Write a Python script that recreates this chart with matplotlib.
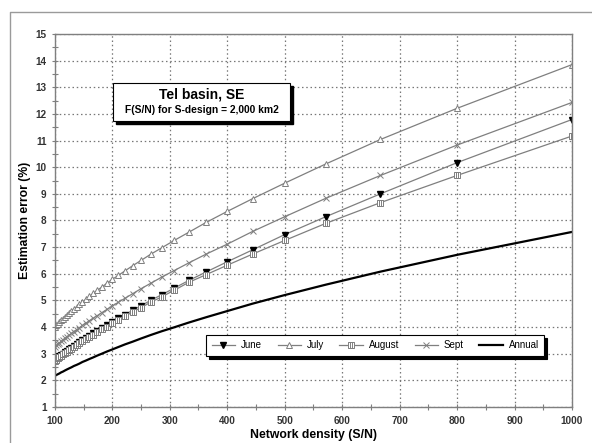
import matplotlib
matplotlib.use("Agg")
import matplotlib.pyplot as plt
from matplotlib.path import Path
from matplotlib.patches import Rectangle
from matplotlib.lines import Line2D

plt.rcParams["font.family"] = ["Liberation Sans", "DejaVu Sans"]

# network density S/N (km2 per station), from 40 down to 4 stations
density = [100.0, 102.6, 105.3, 108.1, 111.1, 114.3, 117.6, 121.2, 125.0, 129.0,
           133.3, 137.9, 142.9, 148.1, 153.8, 160.0, 166.7, 173.9, 181.8, 190.5,
           200.0, 210.5, 222.2, 235.3, 250.0, 266.7, 285.7, 307.7, 333.3, 363.6,
           400.0, 444.4, 500.0, 571.4, 666.7, 800.0, 1000.0]

june = [2.77, 2.81, 2.86, 2.90, 2.95, 3.00, 3.05, 3.11, 3.17, 3.23,
        3.29, 3.36, 3.43, 3.51, 3.59, 3.67, 3.76, 3.86, 3.97, 4.08,
        4.20, 4.33, 4.47, 4.63, 4.80, 5.00, 5.21, 5.46, 5.75, 6.07,
        6.45, 6.90, 7.47, 8.14, 9.00, 10.17, 11.79]

july = [4.02, 4.07, 4.13, 4.19, 4.25, 4.31, 4.38, 4.45, 4.52, 4.60,
        4.68, 4.76, 4.85, 4.94, 5.04, 5.15, 5.26, 5.38, 5.50, 5.64,
        5.79, 5.94, 6.11, 6.30, 6.50, 6.73, 6.97, 7.25, 7.56, 7.93,
        8.34, 8.82, 9.40, 10.12, 11.04, 12.21, 13.85]

august = [2.74, 2.78, 2.83, 2.87, 2.92, 2.97, 3.02, 3.08, 3.13, 3.19,
          3.25, 3.32, 3.39, 3.47, 3.54, 3.63, 3.72, 3.81, 3.91, 4.02,
          4.14, 4.27, 4.41, 4.56, 4.73, 4.93, 5.13, 5.38, 5.68, 5.97,
          6.32, 6.74, 7.25, 7.89, 8.67, 9.69, 11.17]

sept = [3.27, 3.32, 3.36, 3.41, 3.47, 3.52, 3.58, 3.64, 3.70, 3.76,
        3.83, 3.90, 3.98, 4.06, 4.14, 4.24, 4.33, 4.43, 4.54, 4.66,
        4.79, 4.93, 5.08, 5.25, 5.44, 5.64, 5.87, 6.12, 6.41, 6.74,
        7.11, 7.59, 8.14, 8.83, 9.69, 10.83, 12.43]

annual = [2.17, 2.20, 2.23, 2.26, 2.30, 2.33, 2.37, 2.41, 2.45, 2.49,
          2.54, 2.58, 2.63, 2.69, 2.74, 2.80, 2.86, 2.93, 3.00, 3.08,
          3.16, 3.25, 3.35, 3.45, 3.57, 3.70, 3.84, 3.99, 4.17, 4.37,
          4.60, 4.88, 5.20, 5.59, 6.08, 6.71, 7.57]

x_ticks = list(range(100, 1001, 100))
y_ticks = list(range(1, 16))

# square with a bar inside, like the Excel August marker
box_marker = Path([(-1, -1), (1, -1), (1, 1), (-1, 1), (-1, -1), (-0.3, -1), (-0.3, 1), (0.3, -1), (0.3, 1)],
                  [Path.MOVETO, Path.LINETO, Path.LINETO, Path.LINETO, Path.CLOSEPOLY,
                   Path.MOVETO, Path.LINETO, Path.MOVETO, Path.LINETO])

grey = "#7f7f7f"
fig = plt.figure(figsize=(5.92, 4.43), dpi=100)
ax = fig.add_axes([0.0926, 0.0813, 0.8736, 0.842])

ax.plot(density, june, color=grey, lw=0.9, marker="v", ms=4.5, mfc="black", mec="black", label="June")
ax.plot(density, july, color=grey, lw=0.9, marker="^", ms=4.5, mfc="white", mec=grey, mew=0.7, label="July")
ax.plot(density, august, color=grey, lw=0.9, marker=box_marker, ms=4.5, mfc="white", mec=grey, mew=0.7, label="August")
ax.plot(density, sept, color=grey, lw=0.9, marker="x", ms=4, mec=grey, mew=0.7, label="Sept")
ax.plot(density, annual, color="black", lw=1.6, label="Annual")

ax.set_xlim(100, 1000)
ax.set_ylim(1, 15)
ax.set_xticks(x_ticks)
ax.set_yticks(y_ticks)
ax.set_xticks([v + 50 for v in x_ticks[:-1]], minor=True)
ax.set_yticks([v + 0.5 for v in y_ticks[:-1]], minor=True)
ax.tick_params(which="both", direction="inout", length=5, width=0.8, color=grey,
               labelsize=7.2, labelcolor="#333333")
ax.tick_params(axis="x", pad=4)
for lab in ax.get_xticklabels() + ax.get_yticklabels():
    lab.set_fontweight("bold")

ax.grid(True, which="major", color="#777777", linestyle=(0, (1.2, 2.2)), linewidth=0.9)
for sp in ax.spines.values():
    sp.set_color(grey)
    sp.set_linewidth(1.0)

ax.set_xlabel("Network density (S/N)", fontsize=8.8, fontweight="bold", labelpad=2)
ax.set_ylabel("Estimation error (%)", fontsize=8.8, fontweight="bold", labelpad=3)

# title box with black drop shadow
ax.add_patch(Rectangle((0.1185, 0.7588), 0.3423, 0.1018, transform=ax.transAxes,
                       facecolor="black", edgecolor="black", zorder=5))
ax.add_patch(Rectangle((0.1125, 0.7668), 0.3423, 0.1018, transform=ax.transAxes,
                       facecolor="white", edgecolor="black", lw=0.8, zorder=6))
ax.text(0.2836, 0.838, "Tel basin, SE", transform=ax.transAxes, ha="center", va="center",
        fontsize=10, fontweight="bold", zorder=7)
ax.text(0.2836, 0.796, "F(S/N) for S-design = 2,000 km2", transform=ax.transAxes, ha="center",
        va="center", fontsize=7.4, fontweight="bold", zorder=7)

leg = ax.legend(loc="center", bbox_to_anchor=(0.6195, 0.165), ncol=5, fontsize=7, frameon=True,
                fancybox=False, edgecolor="black", handlelength=2.4, columnspacing=1.6,
                handletextpad=0.6, borderpad=0.55, shadow={"color": "black", "alpha": 1})
leg.get_frame().set_linewidth(0.8)

# outer chart-area border (left and top only are visible)
fig.add_artist(Line2D([10 / 592, 10 / 592, 1.0], [0.0, 1 - 12 / 443, 1 - 12 / 443],
                      transform=fig.transFigure, color="#9a9a9a", lw=1.0))

fig.savefig("out.png", dpi=100)
